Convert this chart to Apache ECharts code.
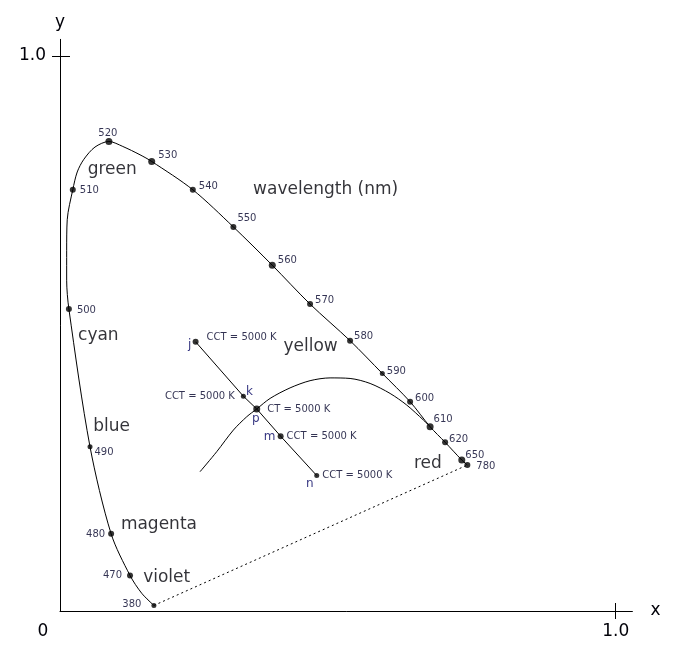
<!DOCTYPE html>
<html>
<head>
<meta charset="utf-8">
<title>CIE chromaticity diagram</title>
<script src="https://cdn.jsdelivr.net/npm/echarts@6/dist/echarts.min.js"></script>
<style>
  html, body { margin: 0; padding: 0; background: #ffffff; }
  #chart { width: 677px; height: 651px; }
</style>
</head>
<body>
<div id="chart"></div>
<script>
// marked points of the spectral locus (nm) and their chromaticity
const wavelengths = [380, 470, 480, 490, 500, 510, 520, 530, 540, 550, 560, 570, 580, 590, 600, 610, 620, 650, 780];
const markX = [0.169, 0.126, 0.092, 0.054, 0.016, 0.023, 0.088, 0.165, 0.239, 0.312, 0.382, 0.450, 0.522, 0.580, 0.630, 0.666, 0.693, 0.723, 0.733];
const markY = [0.010, 0.064, 0.139, 0.296, 0.544, 0.759, 0.846, 0.810, 0.759, 0.692, 0.623, 0.553, 0.487, 0.428, 0.377, 0.332, 0.304, 0.272, 0.263];

// the locus curve itself, marked points plus points
const locusX = [0.169, 0.147, 0.126, 0.092, 0.054, 0.016, 0.012, 0.012, 0.013, 0.023, 0.031, 0.043, 0.063, 0.088, 0.113, 0.144, 0.165, 0.239, 0.312, 0.382, 0.450, 0.522, 0.580, 0.630, 0.666, 0.693, 0.723, 0.733];
const locusY = [0.010, 0.032, 0.064, 0.139, 0.296, 0.544, 0.596, 0.650, 0.705, 0.759, 0.791, 0.814, 0.836, 0.846, 0.837, 0.822, 0.810, 0.759, 0.692, 0.623, 0.553, 0.487, 0.428, 0.377, 0.332, 0.304, 0.272, 0.263];

// planckian locus
const planckX = [0.252, 0.282, 0.312, 0.336, 0.354, 0.378, 0.414, 0.450, 0.486, 0.522, 0.558, 0.594, 0.624, 0.654, 0.662];
const planckY = [0.251, 0.287, 0.326, 0.350, 0.364, 0.383, 0.402, 0.415, 0.420, 0.419, 0.410, 0.392, 0.371, 0.344, 0.336];

// iso-temperature line
const isoNames = ['j', 'k', 'p', 'm', 'n'];
const isoX = [0.244, 0.330, 0.354, 0.397, 0.462];
const isoY = [0.485, 0.387, 0.364, 0.315, 0.244];
const isoText = ['CCT = 5000 K', 'CCT = 5000 K', 'CT = 5000 K', 'CCT = 5000 K', 'CCT = 5000 K'];

// colour names written on the diagram
const regionNames = ['green', 'wavelength (nm)', 'cyan', 'yellow', 'blue', 'red', 'magenta', 'violet'];
const regionX = [0.094, 0.478, 0.069, 0.451, 0.093, 0.662, 0.178, 0.192];
const regionY = [0.795, 0.760, 0.497, 0.476, 0.333, 0.266, 0.155, 0.061];

const FONT = 'DejaVu Sans';
const NUM_COLOR = '#000028';
const WORD_COLOR = '#000008';
const LETTER_COLOR = '#000060';
const AXIS_MAX = 1.03;

// label placement per wavelength: [position, dot size, dx, dy]
const wlStyle = {
  380: ['left', 5, -10, -1], 470: ['left', 6, -5, 0], 480: ['left', 6, -3, 1],
  490: ['right', 5, 2, 6], 500: ['right', 6, 5, 1], 510: ['right', 6, 4, 1],
  520: ['top', 7, -1, 0], 530: ['right', 7, 3, -6], 540: ['right', 6, 3, -3],
  550: ['right', 6, 1, -9], 560: ['right', 7, 2, -5], 570: ['right', 6, 2, -4],
  580: ['right', 6, 1, -4], 590: ['right', 5, 2, -2], 600: ['right', 6, 2, -3],
  610: ['right', 7, 0, -7], 620: ['right', 6, 1, -3], 650: ['right', 7, 0, -5],
  780: ['right', 6, 6, 1]
};
const isoDot = [6, 5, 7, 6, 5];
const letterOffset = [[-6, 3], [6, -4], [-1, 10], [-11, 1], [-7, 8]];
const cctPlace = [['right', 8, -4], ['left', -6, 0], ['right', 7, 0], ['right', 3, 0], ['right', 3, 0]];

const pairs = (xs, ys) => xs.map((x, i) => [x, ys[i]]);
const last = wavelengths.length - 1;

function axisPair(dim, name) {
  const isX = dim === 'x';
  const text = { fontFamily: FONT, fontSize: 17, color: WORD_COLOR };
  const main = {
    type: 'value', min: 0, max: AXIS_MAX, position: isX ? 'bottom' : 'left',
    name, nameLocation: 'end', nameGap: isX ? 18 : 8, nameTextStyle: text,
    axisLine: { show: true, lineStyle: { color: '#000', width: 1 } },
    axisTick: { show: true, inside: false, length: 8, customValues: [1], lineStyle: { color: '#000' } },
    axisLabel: {
      ...text,
      margin: isX ? 12 : 14,
      customValues: isX ? [0, 1] : [1],
      formatter: (v) => (v === 0 ? '{z|0}' : v.toFixed(1)),
      rich: { z: { ...text, padding: [0, 34, 0, 0] } }
    },
    splitLine: { show: false }
  };
  // second copy only for the inner half of the crossing tick
  const inner = {
    type: 'value', min: 0, max: AXIS_MAX, position: isX ? 'bottom' : 'left',
    axisLine: { show: false },
    axisTick: { show: true, inside: true, length: isX ? 8 : 10, customValues: [1], lineStyle: { color: '#000' } },
    axisLabel: { show: false },
    splitLine: { show: false }
  };
  return [main, inner];
}

const chart = echarts.init(document.getElementById('chart'));

chart.setOption({
  animation: false,
  backgroundColor: '#ffffff',
  grid: { left: 60, right: 44.6, top: 39.35, bottom: 40 },
  xAxis: axisPair('x', 'x'),
  yAxis: axisPair('y', 'y'),
  series: [
    {
      name: 'spectral locus', type: 'line', silent: true, smooth: 0.3, showSymbol: false,
      data: pairs(locusX, locusY), lineStyle: { color: '#000', width: 1 }, z: 2
    },
    {
      name: 'purple line', type: 'line', silent: true, showSymbol: false,
      data: [[markX[0], markY[0]], [markX[last], markY[last]]],
      lineStyle: { color: '#000', width: 1, type: [2, 3] }, z: 2
    },
    {
      name: 'planckian locus', type: 'line', silent: true, smooth: 0.3, showSymbol: false,
      data: pairs(planckX, planckY), lineStyle: { color: '#000', width: 1 }, z: 2
    },
    {
      name: 'iso line', type: 'line', silent: true, showSymbol: false,
      data: pairs(isoX, isoY), lineStyle: { color: '#000', width: 1 }, z: 2
    },
    {
      name: 'wavelengths', type: 'scatter', silent: true, z: 3,
      itemStyle: { color: '#000' },
      data: wavelengths.map((wl, i) => {
        const [position, size, dx, dy] = wlStyle[wl];
        return {
          value: [markX[i], markY[i]],
          symbolSize: size,
          label: {
            show: true, position, distance: 0, offset: [dx, dy], formatter: String(wl),
            fontFamily: FONT, fontSize: 10, color: NUM_COLOR
          }
        };
      })
    },
    {
      name: 'iso points', type: 'scatter', silent: true, z: 3,
      itemStyle: { color: '#000' },
      data: isoNames.map((n, i) => ({
        value: [isoX[i], isoY[i]],
        symbolSize: isoDot[i],
        label: {
          show: true, position: cctPlace[i][0], distance: 0,
          offset: [cctPlace[i][1], cctPlace[i][2]], formatter: isoText[i],
          fontFamily: FONT, fontSize: 10, color: NUM_COLOR
        }
      }))
    },
    {
      name: 'iso letters', type: 'scatter', silent: true, z: 4, symbolSize: 1,
      itemStyle: { color: 'rgba(0,0,0,0)' },
      data: isoNames.map((n, i) => ({
        value: [isoX[i], isoY[i]],
        name: n,
        label: {
          show: true, position: 'inside', offset: letterOffset[i], formatter: '{b}',
          fontFamily: FONT, fontSize: 12, color: LETTER_COLOR
        }
      }))
    },
    {
      name: 'regions', type: 'scatter', silent: true, z: 4, symbolSize: 1,
      itemStyle: { color: 'rgba(0,0,0,0)' },
      label: {
        show: true, position: 'inside', formatter: '{b}',
        fontFamily: FONT, fontSize: 17, color: WORD_COLOR
      },
      data: regionNames.map((n, i) => ({ value: [regionX[i], regionY[i]], name: n }))
    }
  ]
});
</script>
</body>
</html>
